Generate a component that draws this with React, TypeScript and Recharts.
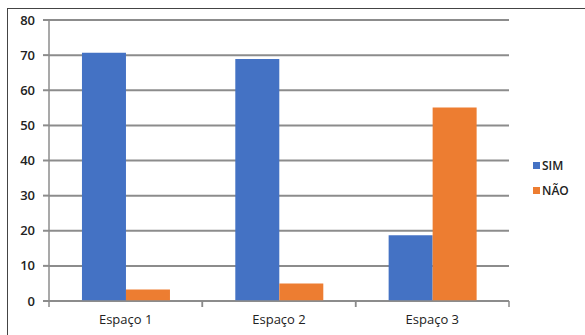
import React from 'react';
import { BarChart, Bar, XAxis, YAxis, CartesianGrid } from 'recharts';

const categories = ['Espaço 1', 'Espaço 2', 'Espaço 3'];
const simValues = [70.7, 68.9, 18.7];
const naoValues = [3.3, 5.0, 55.1];
const yTicks = [0, 10, 20, 30, 40, 50, 60, 70, 80];

const series = [
  { key: 'SIM', name: 'SIM', color: '#4472C4' },
  { key: 'NAO', name: 'NÃO', color: '#ED7D31' },
];

const data = categories.map((name, i) => ({
  name,
  SIM: simValues[i],
  NAO: naoValues[i],
}));

const WIDTH = 585;
const HEIGHT = 335;
const PLOT_LEFT = 49;
const PLOT_RIGHT = 509;
const HALF_BAND = (PLOT_RIGHT - PLOT_LEFT) / categories.length / 2;
const FONT = "'Open Sans', sans-serif";

const CategoryTick = (props: any) => {
  const { x, y, payload } = props;
  return (
    <g>
      <line x1={x - HALF_BAND} y1={y - 8} x2={x - HALF_BAND} y2={y - 2} stroke="#8a8a8a" strokeWidth={1.5} />
      <line x1={x + HALF_BAND} y1={y - 8} x2={x + HALF_BAND} y2={y - 2} stroke="#8a8a8a" strokeWidth={1.5} />
      <text x={x} y={y + 15} textAnchor="middle" fontSize={13} fill="#222" fontFamily={FONT}>
        {payload.value}
      </text>
    </g>
  );
};

export default function App() {
  return (
    <div style={{ position: 'absolute', left: 0, top: 0, width: WIDTH, height: HEIGHT, background: '#fff', overflow: 'hidden' }}>
      <div style={{ position: 'absolute', left: 7, top: 8, width: 620, height: 360, border: '1.5px solid #444' }} />
      <BarChart
        width={WIDTH}
        height={HEIGHT}
        data={data}
        margin={{ top: 20, right: WIDTH - PLOT_RIGHT, bottom: 0, left: 0 }}
        barCategoryGap="21.5%"
        barGap={0}
      >
        <CartesianGrid vertical={false} stroke="#8c8c8c" strokeWidth={2} />
        <XAxis
          dataKey="name"
          height={34}
          axisLine={{ stroke: '#8c8c8c', strokeWidth: 1.5 }}
          tickLine={false}
          tick={<CategoryTick />}
          interval={0}
        />
        <YAxis
          width={PLOT_LEFT}
          domain={[0, 80]}
          ticks={yTicks}
          interval={0}
          axisLine={{ stroke: '#8c8c8c', strokeWidth: 1.5 }}
          tickLine={{ stroke: '#8c8c8c', strokeWidth: 2 }}
          tickSize={6}
          tickMargin={8}
          tick={{ fontSize: 13, fill: '#222', fontWeight: 600, fontFamily: FONT }}
        />
        {series.map((s) => (
          <Bar key={s.key} dataKey={s.key} name={s.name} fill={s.color} isAnimationActive={false} />
        ))}
      </BarChart>
      <div style={{ position: 'absolute', left: 533, top: 153, fontFamily: FONT, fontSize: 12, fontWeight: 600, color: '#222' }}>
        {series.map((s) => (
          <div key={s.key} style={{ display: 'flex', alignItems: 'center', height: 25 }}>
            <span style={{ display: 'inline-block', width: 7, height: 7, background: s.color, marginRight: 2 }} />
            {s.name}
          </div>
        ))}
      </div>
    </div>
  );
}
